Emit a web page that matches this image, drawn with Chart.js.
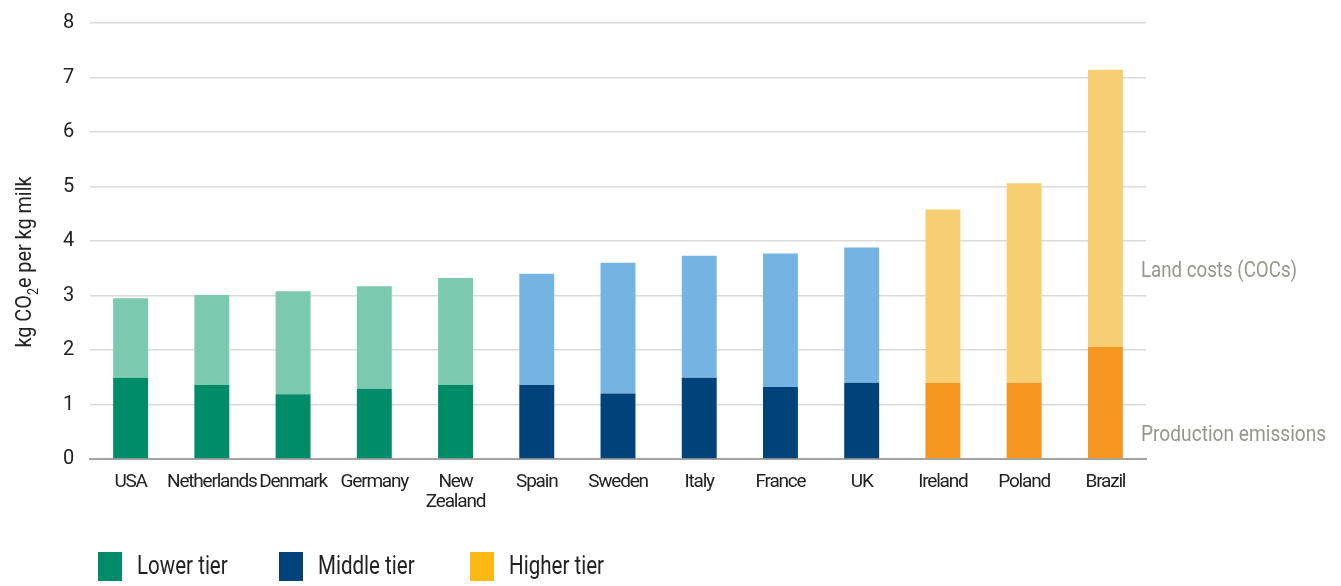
<!DOCTYPE html>
<html>
<head>
<meta charset="utf-8">
<script src="https://cdn.jsdelivr.net/npm/chart.js@4"></script>
<style>
  html, body { margin: 0; padding: 0; background: #fff; }
  #wrap { width: 1341px; height: 586px; position: relative; }
</style>
</head>
<body>
<div id="wrap"><canvas id="myChart"></canvas></div>
<script>
const FONT = "Roboto, 'DejaVu Sans Condensed', sans-serif";

const countries = [['USA'], ['Netherlands'], ['Denmark'], ['Germany'], ['New', 'Zealand'], ['Spain'],
                   ['Sweden'], ['Italy'], ['France'], ['UK'], ['Ireland'], ['Poland'], ['Brazil']];
const tiers = [0, 0, 0, 0, 0, 1, 1, 1, 1, 1, 2, 2, 2];
const productionEmissions = [1.49, 1.36, 1.19, 1.29, 1.36, 1.36, 1.20, 1.49, 1.32, 1.40, 1.40, 1.40, 2.06];
const landCosts = [1.46, 1.65, 1.89, 1.88, 1.96, 2.04, 2.40, 2.24, 2.45, 2.48, 3.18, 3.66, 5.08];
const yTicks = [0, 1, 2, 3, 4, 5, 6, 7, 8];
const tierNames = ['Lower tier', 'Middle tier', 'Higher tier'];

// colours per tier
const darkColors = ['#008c69', '#00437a', '#f59620'];
const lightColors = ['#7bcab0', '#75b4e2', '#f7ce72'];
const legendColors = ['#008c69', '#00437a', '#fdb913'];

// the original uses a condensed face, tighten the tick labels a bit
const tightText = {
  id: 'tightText',
  beforeLayout(chart) { chart.ctx.letterSpacing = '-1.2px'; },
  beforeDraw(chart) { chart.ctx.letterSpacing = '-1.2px'; }
};

// draws condensed text by squeezing it horizontally
function squeezed(c, text, x, y, size, sx) {
  c.save();
  c.letterSpacing = '0px';
  c.font = size + 'px ' + FONT;
  c.translate(x, y);
  c.scale(sx, 1);
  c.textAlign = 'left';
  c.textBaseline = 'middle';
  c.fillText(text, 0, 0);
  c.restore();
}

// y title, right side labels and the tier legend
const extraText = {
  id: 'extraText',
  afterDraw(chart) {
    const c = chart.ctx;
    const y = chart.scales.y;
    const area = chart.chartArea;

    c.save();
    c.fillStyle = '#96968e';
    squeezed(c, 'Land costs (COCs)', area.right - 5, y.getPixelForValue(3.44), 22, 0.85);
    squeezed(c, 'Production emissions', area.right - 5, y.getPixelForValue(0.44), 22, 0.87);
    c.restore();

    // axis title with a subscript 2
    c.save();
    c.translate(25, 262);
    c.rotate(-Math.PI / 2);
    c.fillStyle = '#222';
    c.letterSpacing = '0px';
    const big = '22px ' + FONT, small = '14px ' + FONT;
    c.font = big;
    const p1 = 'kg CO', p3 = 'e per kg milk';
    const w1 = c.measureText(p1).width, w3 = c.measureText(p3).width;
    c.font = small;
    const w2 = c.measureText('2').width;
    c.scale(0.9, 1);
    c.textBaseline = 'middle';
    c.textAlign = 'left';
    let x = -(w1 + w2 + w3) / 2;
    c.font = big;
    c.fillText(p1, x, 0);
    x += w1;
    c.font = small;
    c.fillText('2', x, 9);
    x += w2;
    c.font = big;
    c.fillText(p3, x, 0);
    c.restore();

    // legend
    const boxX = [98, 279, 470];
    c.save();
    tierNames.forEach((name, i) => {
      c.fillStyle = legendColors[i];
      c.fillRect(boxX[i], 552, 24, 29);
      c.fillStyle = '#222';
      squeezed(c, name, boxX[i] + 39, 567, 26, 0.79);
    });
    c.restore();
  }
};

new Chart(document.getElementById('myChart'), {
  type: 'bar',
  data: {
    labels: countries,
    datasets: [
      {
        label: 'Production emissions',
        data: productionEmissions,
        backgroundColor: tiers.map(t => darkColors[t]),
        barPercentage: 0.43,
        categoryPercentage: 1
      },
      {
        label: 'Land costs (COCs)',
        data: landCosts,
        backgroundColor: tiers.map(t => lightColors[t]),
        barPercentage: 0.43,
        categoryPercentage: 1
      }
    ]
  },
  options: {
    responsive: true,
    maintainAspectRatio: false,
    animation: false,
    layout: { padding: { left: 0, right: 195, top: 23, bottom: 72 } },
    plugins: {
      tooltip: { enabled: false },
      legend: { display: false }
    },
    scales: {
      x: {
        stacked: true,
        grid: { display: false },
        border: { display: true, color: '#a3a3a3', width: 2 },
        ticks: {
          color: '#222',
          padding: 5,
          maxRotation: 0,
          autoSkip: false,
          font: { family: FONT, size: 19, lineHeight: 1.05 }
        },
        afterFit(scale) { scale.height = 55; scale.paddingLeft = 0; scale.paddingRight = 0; }
      },
      y: {
        stacked: true,
        min: 0,
        max: 8,
        afterBuildTicks(scale) { scale.ticks = yTicks.map(v => ({ value: v })); },
        afterFit(scale) { scale.width = 90; scale.paddingTop = 0; scale.paddingBottom = 0; },
        grid: { color: '#dadada', lineWidth: 1.5, drawTicks: false },
        border: { display: false },
        ticks: {
          color: '#222',
          padding: 17,
          font: { family: FONT, size: 20 }
        }
      }
    }
  },
  plugins: [tightText, extraText]
});
</script>
</body>
</html>
